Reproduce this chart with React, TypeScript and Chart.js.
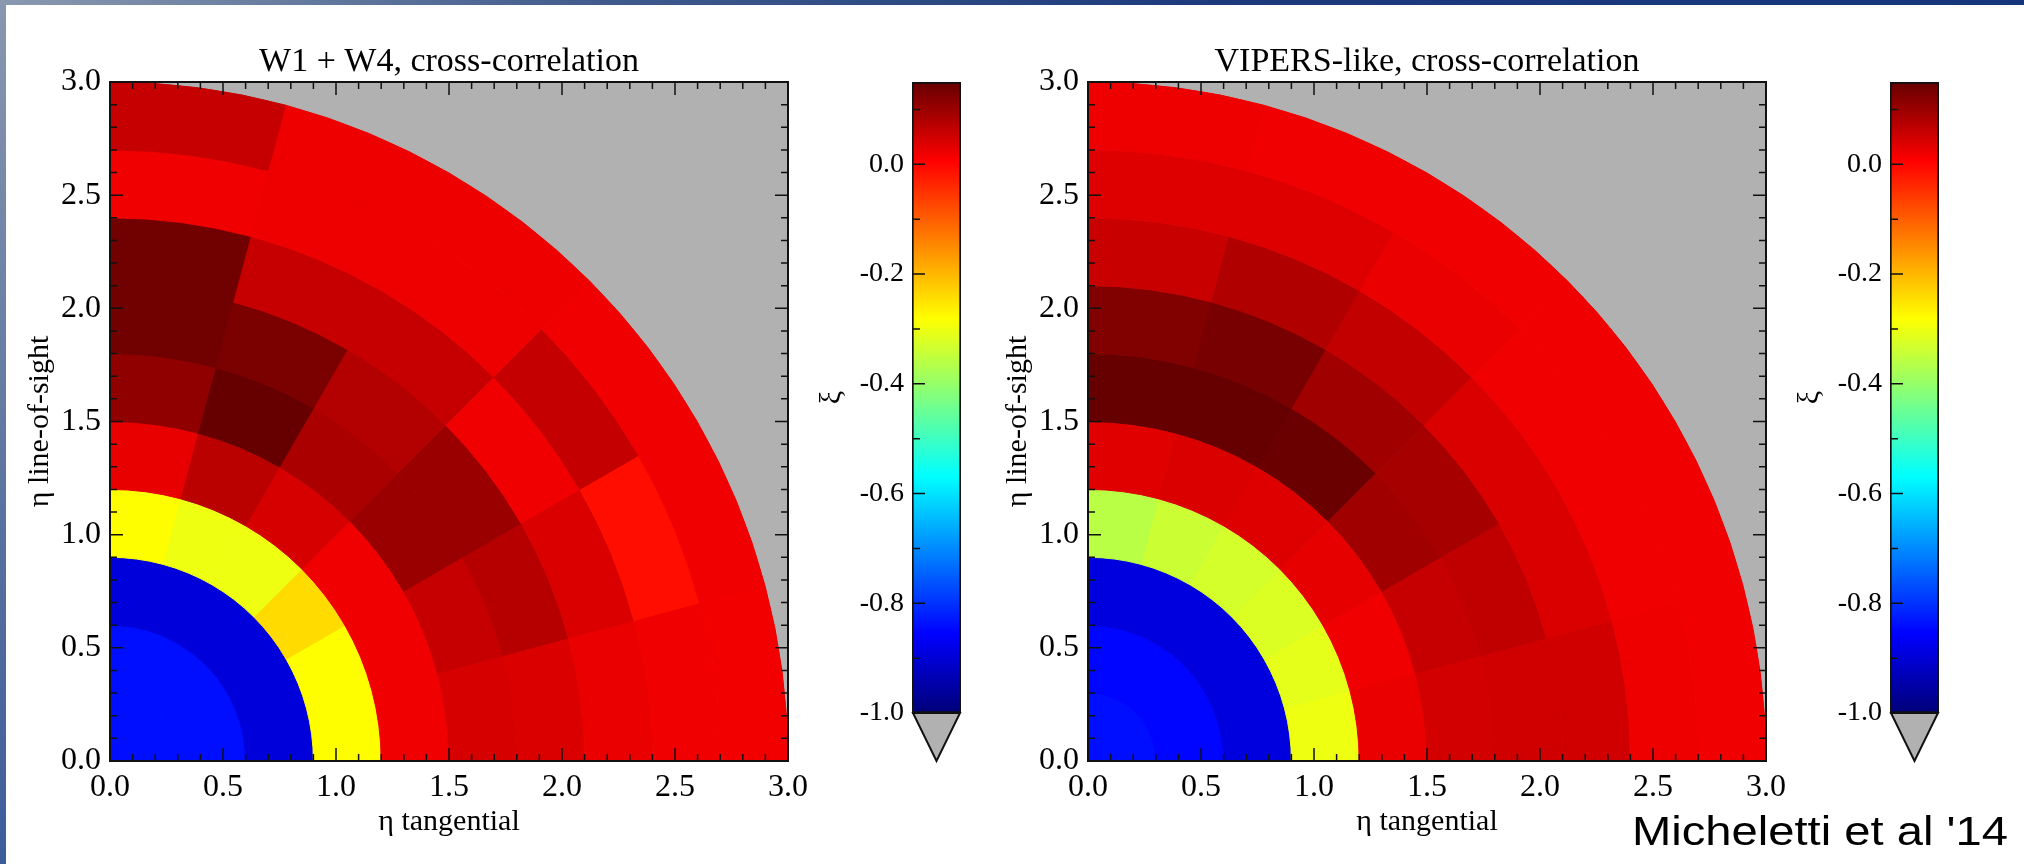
import React, { useEffect, useRef } from 'react';
import { Chart, registerables } from 'chart.js';

Chart.register(...registerables);

const SERIF = "'Liberation Serif', 'Times New Roman', Times, serif";
const SANS = "'Liberation Sans', Arial, Helvetica, sans-serif";

// ---- grid definition (eta = radial separation, angle measured from tangential axis) ----
const radialEdges = [0, 0.3, 0.6, 0.9, 1.2, 1.5, 1.8, 2.1, 2.4, 2.7, 3.0];
const angleEdgesDeg = [0, 15, 30, 45, 60, 75, 90];

// ---- axis ticks ----
const axisTickValues = [0, 0.5, 1.0, 1.5, 2.0, 2.5, 3.0];
const axisMinorTickValues = [0.1, 0.2, 0.3, 0.4, 0.6, 0.7, 0.8, 0.9, 1.1, 1.2, 1.3, 1.4, 1.6, 1.7, 1.8, 1.9, 2.1, 2.2, 2.3, 2.4, 2.6, 2.7, 2.8, 2.9];

// ---- colour bar ----
const colorbarMin = -1.0;
const colorbarMax = 0.15;
const colorbarMajorTicks = [-1.0, -0.8, -0.6, -0.4, -0.2, 0.0];
const colorbarMinorTicks = [-0.9, -0.7, -0.5, -0.3, -0.1, 0.1];
const cmapValues = [-1.0, -0.856, -0.569, -0.281, 0.006, 0.15];
const cmapColors = ['#000078', '#0000ff', '#00ffff', '#ffff00', '#ff0000', '#660000'];

// ---- xi values: rows = radial rings (inner -> outer), columns = angular bins 0-15 ... 75-90 deg ----
const w1w4Xi = [
  [-0.84, -0.84, -0.84, -0.84, -0.84, -0.84],
  [-0.84, -0.84, -0.84, -0.84, -0.84, -0.84],
  [-0.895, -0.895, -0.895, -0.895, -0.895, -0.895],
  [-0.28, -0.28, -0.24, -0.30, -0.30, -0.28],
  [0.02, 0.02, 0.02, 0.045, 0.07, 0.028],
  [0.045, 0.06, 0.1, 0.085, 0.15, 0.11],
  [0.04, 0.075, 0.1, 0.078, 0.13, 0.14],
  [0.025, 0.04, 0.02, 0.06, 0.06, 0.14],
  [0.02, -0.01, 0.062, 0.022, 0.022, 0.02],
  [0.018, 0.02, 0.02, 0.022, 0.022, 0.06],
];

const vipersXi = [
  [-0.84, -0.84, -0.84, -0.84, -0.84, -0.84],
  [-0.85, -0.85, -0.85, -0.85, -0.85, -0.85],
  [-0.89, -0.89, -0.89, -0.89, -0.89, -0.89],
  [-0.30, -0.31, -0.32, -0.33, -0.34, -0.36],
  [0.025, 0.02, 0.03, 0.037, 0.04, 0.035],
  [0.047, 0.06, 0.095, 0.145, 0.15, 0.15],
  [0.05, 0.065, 0.09, 0.095, 0.133, 0.125],
  [0.05, 0.04, 0.04, 0.063, 0.08, 0.058],
  [0.022, 0.02, 0.02, 0.025, 0.037, 0.037],
  [0.02, 0.02, 0.02, 0.02, 0.02, 0.022],
];

const panelTitles = ['W1 + W4, cross-correlation', 'VIPERS-like, cross-correlation'];
const xAxisTitle = 'η tangential';
const yAxisTitle = 'η line-of-sight';
const colorbarTitle = 'ξ';
const creditText = "Micheletti et al '14";

const GRAY = '#b1b1b1';
const INK = '#111111';

function hexToRgb(h: string): number[] {
  const n = parseInt(h.slice(1), 16);
  return [(n >> 16) & 255, (n >> 8) & 255, n & 255];
}

function colorFor(v: number): string {
  const lo = cmapValues[0];
  const hi = cmapValues[cmapValues.length - 1];
  const vv = Math.min(Math.max(v, lo), hi);
  for (let i = 0; i < cmapValues.length - 1; i++) {
    const a = cmapValues[i];
    const b = cmapValues[i + 1];
    if (vv <= b || i === cmapValues.length - 2) {
      const f = (vv - a) / (b - a);
      const c0 = hexToRgb(cmapColors[i]);
      const c1 = hexToRgb(cmapColors[i + 1]);
      const c = c0.map((x, k) => Math.round(x + (c1[k] - x) * f));
      return `rgb(${c[0]},${c[1]},${c[2]})`;
    }
  }
  return cmapColors[0];
}

function makePolarChart(canvas: HTMLCanvasElement, title: string, values: number[][]) {
  const polarPlugin = {
    id: 'polarCells',
    beforeDatasetsDraw(chart: any) {
      const { ctx, chartArea: ca } = chart;
      const xs = chart.scales.x;
      const ys = chart.scales.y;
      ctx.save();
      ctx.beginPath();
      ctx.rect(ca.left, ca.top, ca.right - ca.left, ca.bottom - ca.top);
      ctx.clip();
      ctx.fillStyle = GRAY;
      ctx.fillRect(ca.left, ca.top, ca.right - ca.left, ca.bottom - ca.top);
      const cx = xs.getPixelForValue(0);
      const cy = ys.getPixelForValue(0);
      values.forEach((row, i) => {
        const r0 = radialEdges[i];
        const r1 = radialEdges[i + 1];
        const rx0 = xs.getPixelForValue(r0) - cx;
        const ry0 = cy - ys.getPixelForValue(r0);
        const rx1 = xs.getPixelForValue(r1) - cx;
        const ry1 = cy - ys.getPixelForValue(r1);
        row.forEach((v, j) => {
          const a0 = (angleEdgesDeg[j] * Math.PI) / 180;
          const a1 = (angleEdgesDeg[j + 1] * Math.PI) / 180;
          ctx.beginPath();
          ctx.ellipse(cx, cy, rx1, ry1, 0, -a0, -a1, true);
          if (r0 > 0) ctx.ellipse(cx, cy, rx0, ry0, 0, -a1, -a0, false);
          else ctx.lineTo(cx, cy);
          ctx.closePath();
          const col = colorFor(v);
          ctx.fillStyle = col;
          ctx.fill();
          ctx.strokeStyle = col;
          ctx.lineWidth = 1;
          ctx.stroke();
        });
      });
      ctx.restore();
    },
    afterDraw(chart: any) {
      const { ctx, chartArea: ca } = chart;
      const xs = chart.scales.x;
      const ys = chart.scales.y;
      ctx.save();
      ctx.strokeStyle = INK;
      ctx.lineWidth = 1.5;
      const marks: Array<[number, number]> = [
        ...axisTickValues.map((v) => [v, 13] as [number, number]),
        ...axisMinorTickValues.map((v) => [v, 7] as [number, number]),
      ];
      ctx.beginPath();
      for (const [v, len] of marks) {
        const px = xs.getPixelForValue(v);
        const py = ys.getPixelForValue(v);
        ctx.moveTo(px, ca.bottom);
        ctx.lineTo(px, ca.bottom - len);
        ctx.moveTo(px, ca.top);
        ctx.lineTo(px, ca.top + len);
        ctx.moveTo(ca.left, py);
        ctx.lineTo(ca.left + len, py);
        ctx.moveTo(ca.right, py);
        ctx.lineTo(ca.right - len, py);
      }
      ctx.stroke();
      ctx.lineWidth = 2;
      ctx.strokeRect(ca.left, ca.top, ca.right - ca.left, ca.bottom - ca.top);
      ctx.fillStyle = '#000';
      ctx.font = `34px ${SERIF}`;
      ctx.textAlign = 'center';
      ctx.textBaseline = 'alphabetic';
      ctx.fillText(title, (ca.left + ca.right) / 2, ca.top - 11);
      ctx.restore();
    },
  };

  const tickFont = { family: SERIF, size: 32 };
  const titleFont = { family: SERIF, size: 30 };

  return new Chart(canvas, {
    type: 'scatter',
    data: { datasets: [] },
    options: {
      animation: false,
      responsive: false,
      events: [],
      layout: { padding: { top: 82, right: 32, bottom: 0, left: 0 } },
      plugins: { legend: { display: false }, tooltip: { enabled: false }, title: { display: false } },
      scales: {
        x: {
          type: 'linear',
          min: 0,
          max: 3,
          position: 'bottom',
          afterBuildTicks: (s: any) => {
            s.ticks = axisTickValues.map((v) => ({ value: v }));
          },
          afterFit: (s: any) => {
            s.height = 103;
          },
          ticks: {
            callback: (v: any) => Number(v).toFixed(1),
            font: tickFont,
            color: '#000',
            padding: 7,
            maxRotation: 0,
            autoSkip: false,
          },
          grid: { display: false, drawTicks: false },
          border: { display: false },
          title: { display: true, text: xAxisTitle, font: titleFont, color: '#000', padding: { top: 0, bottom: 24 } },
        },
        y: {
          type: 'linear',
          min: 0,
          max: 3,
          position: 'left',
          afterBuildTicks: (s: any) => {
            s.ticks = axisTickValues.map((v) => ({ value: v }));
          },
          afterFit: (s: any) => {
            s.width = 110;
          },
          ticks: {
            callback: (v: any) => Number(v).toFixed(1),
            font: tickFont,
            color: '#000',
            padding: 9,
            autoSkip: false,
          },
          grid: { display: false, drawTicks: false },
          border: { display: false },
          title: { display: true, text: yAxisTitle, font: titleFont, color: '#000', padding: { top: 22, bottom: 0 } },
        },
      },
    } as any,
    plugins: [polarPlugin as any],
  });
}

function makeColorbarChart(canvas: HTMLCanvasElement) {
  const allTicks = [...colorbarMajorTicks, ...colorbarMinorTicks].sort((a, b) => a - b);
  const isMajor = (v: number) => colorbarMajorTicks.some((m) => Math.abs(m - v) < 1e-6);

  const cbPlugin = {
    id: 'colorbarDecor',
    afterDatasetsDraw(chart: any) {
      const { ctx, chartArea: ca } = chart;
      const ys = chart.scales.y;
      const yb = ys.getPixelForValue(colorbarMin);
      const w = ca.right - ca.left;
      ctx.save();
      ctx.beginPath();
      ctx.moveTo(ca.left + 1, yb);
      ctx.lineTo(ca.right - 1, yb);
      ctx.lineTo((ca.left + ca.right) / 2, yb + w - 1);
      ctx.closePath();
      ctx.fillStyle = GRAY;
      ctx.fill();
      ctx.strokeStyle = INK;
      ctx.lineWidth = 2;
      ctx.lineJoin = 'miter';
      ctx.stroke();
      ctx.lineWidth = 1.5;
      ctx.beginPath();
      for (const v of allTicks) {
        const py = ys.getPixelForValue(v);
        const len = isMajor(v) ? 13 : 8;
        ctx.moveTo(ca.left, py);
        ctx.lineTo(ca.left + len, py);
      }
      ctx.stroke();
      ctx.restore();
    },
  };

  return new Chart(canvas, {
    type: 'bar',
    data: {
      labels: [''],
      datasets: [
        {
          data: [[colorbarMin, colorbarMax]],
          backgroundColor: (c: any) => {
            const chart = c.chart;
            if (!chart.chartArea) return cmapColors[4];
            const ys = chart.scales.y;
            const y0 = ys.getPixelForValue(cmapValues[0]);
            const y1 = ys.getPixelForValue(cmapValues[cmapValues.length - 1]);
            const g = chart.ctx.createLinearGradient(0, y0, 0, y1);
            const span = cmapValues[cmapValues.length - 1] - cmapValues[0];
            cmapValues.forEach((v, i) => g.addColorStop((v - cmapValues[0]) / span, cmapColors[i]));
            return g;
          },
          borderColor: INK,
          borderWidth: 2,
          borderSkipped: false,
          barPercentage: 1,
          categoryPercentage: 1,
        },
      ],
    },
    options: {
      animation: false,
      responsive: false,
      events: [],
      layout: { padding: { top: 82, right: 51, bottom: 151, left: 0 } },
      plugins: { legend: { display: false }, tooltip: { enabled: false } },
      scales: {
        x: { display: false },
        y: {
          type: 'linear',
          min: colorbarMin,
          max: colorbarMax,
          position: 'left',
          afterBuildTicks: (s: any) => {
            s.ticks = allTicks.map((v) => ({ value: v }));
          },
          afterFit: (s: any) => {
            s.width = 112;
          },
          ticks: {
            callback: (v: any) => (isMajor(Number(v)) ? Number(v).toFixed(1) : ''),
            font: { family: SERIF, size: 28 },
            color: '#000',
            padding: 8,
            autoSkip: false,
          },
          grid: { display: false, drawTicks: false },
          border: { display: false },
          title: { display: true, text: colorbarTitle, font: { family: SERIF, size: 30 }, color: '#000', padding: { top: 14, bottom: 0 } },
        },
      },
    } as any,
    plugins: [cbPlugin as any],
  });
}

export default function App() {
  const polarLeft = useRef<HTMLCanvasElement>(null);
  const polarRight = useRef<HTMLCanvasElement>(null);
  const cbLeft = useRef<HTMLCanvasElement>(null);
  const cbRight = useRef<HTMLCanvasElement>(null);

  useEffect(() => {
    const charts: Chart[] = [];
    if (polarLeft.current) charts.push(makePolarChart(polarLeft.current, panelTitles[0], w1w4Xi));
    if (polarRight.current) charts.push(makePolarChart(polarRight.current, panelTitles[1], vipersXi));
    if (cbLeft.current) charts.push(makeColorbarChart(cbLeft.current));
    if (cbRight.current) charts.push(makeColorbarChart(cbRight.current));
    return () => charts.forEach((c) => c.destroy());
  }, []);

  const abs = (left: number, width: number): React.CSSProperties => ({
    position: 'absolute',
    left,
    top: 0,
    width,
    height: 864,
  });

  return (
    <div style={{ position: 'fixed', left: 0, top: 0, width: 2024, height: 864, background: '#ffffff', overflow: 'hidden' }}>
      <canvas ref={polarLeft} width={820} height={864} style={abs(0, 820)} />
      <canvas ref={polarRight} width={820} height={864} style={abs(978, 820)} />
      <canvas ref={cbLeft} width={212} height={864} style={abs(800, 212)} />
      <canvas ref={cbRight} width={212} height={864} style={abs(1778, 212)} />
      <div
        style={{
          position: 'absolute',
          left: 1632,
          top: 811,
          fontFamily: SANS,
          fontSize: 41,
          lineHeight: '41px',
          color: '#000',
          whiteSpace: 'nowrap',
          transform: 'scaleX(1.15)',
          transformOrigin: 'left top',
        }}
      >
        {creditText}
      </div>
      <div style={{ position: 'absolute', left: 0, top: 0, width: 6, height: 864, background: 'linear-gradient(to bottom, #8797ae, #5a72a0 60%, #3d5c9a)' }} />
      <div style={{ position: 'absolute', left: 0, top: 0, width: 2024, height: 5, background: 'linear-gradient(to right, #8a99b0, #3f5a8c 30%, #1c3a7c 60%, #17357a)' }} />
    </div>
  );
}
